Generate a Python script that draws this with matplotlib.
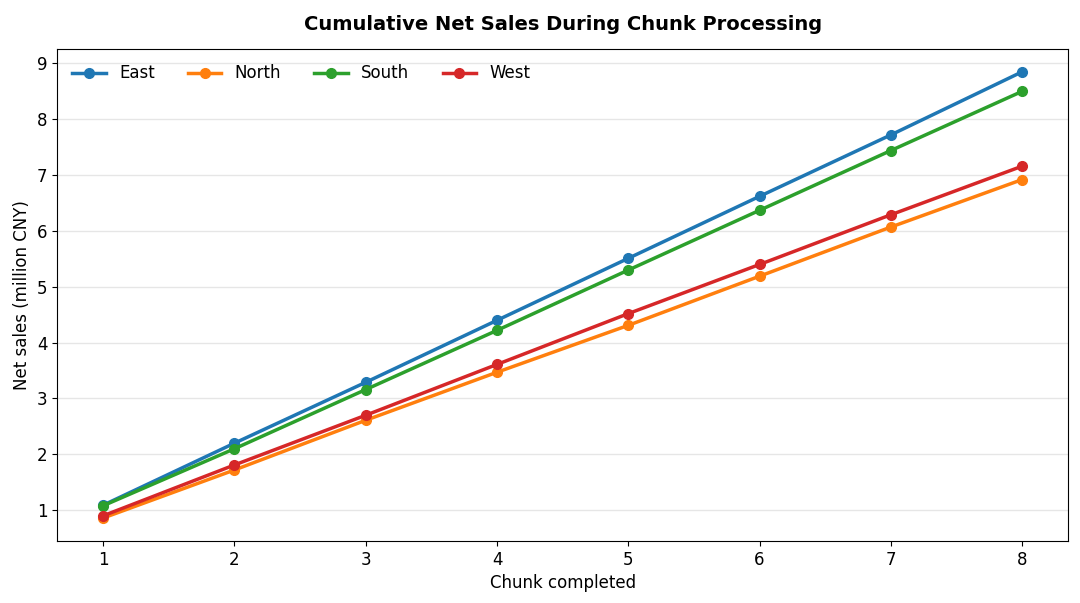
import matplotlib
matplotlib.use("Agg")
import matplotlib.pyplot as plt

chunks = [1, 2, 3, 4, 5, 6, 7, 8]
east = [1.09, 2.20, 3.29, 4.40, 5.51, 6.62, 7.72, 8.85]
north = [0.86, 1.72, 2.61, 3.47, 4.31, 5.19, 6.07, 6.92]
south = [1.08, 2.10, 3.16, 4.22, 5.30, 6.37, 7.44, 8.50]
west = [0.90, 1.81, 2.70, 3.61, 4.52, 5.40, 6.29, 7.16]

series = {"East": east, "North": north, "South": south, "West": west}
colors = {"East": "#1f77b4", "North": "#ff7f0e", "South": "#2ca02c", "West": "#d62728"}

fig, ax = plt.subplots(figsize=(10.8, 6.03), dpi=100)
for name, vals in series.items():
    ax.plot(chunks, vals, marker="o", markersize=7, linewidth=2.5, color=colors[name], label=name)

ax.set_title("Cumulative Net Sales During Chunk Processing", fontsize=14, fontweight="bold", pad=14)
ax.set_xlabel("Chunk completed", fontsize=12)
ax.set_ylabel("Net sales (million CNY)", fontsize=12)
ax.tick_params(labelsize=12)
ax.set_xticks(chunks)
ax.set_xlim(0.65, 8.35)
ax.set_ylim(0.45, 9.25)
ax.yaxis.grid(True, color="#e6e6e6", linewidth=1)
ax.set_axisbelow(True)
ax.legend(loc="upper left", ncol=4, frameon=False, fontsize=12)

fig.subplots_adjust(left=0.053, right=0.989, top=0.918, bottom=0.103)
fig.savefig("out.png")
